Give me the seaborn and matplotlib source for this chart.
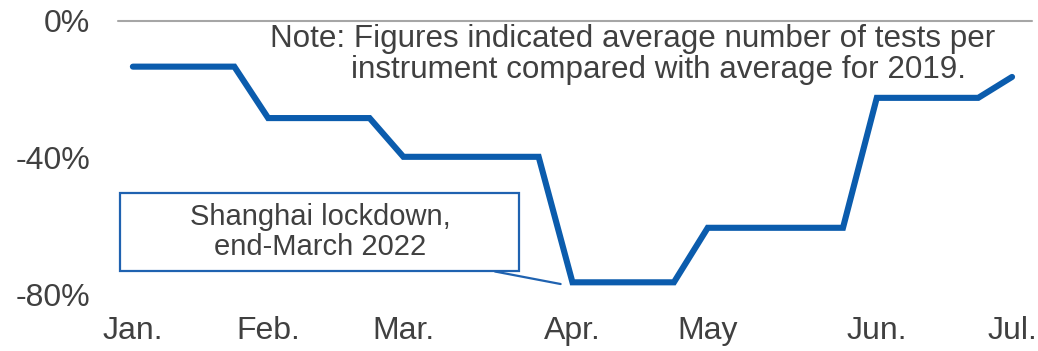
import matplotlib
matplotlib.use("Agg")
import matplotlib.pyplot as plt
import seaborn as sns
import pandas as pd
from matplotlib.patches import Rectangle

# Weekly change in average tests per instrument vs 2019 average (%)
week_start = "2022-01-04"
n_weeks = 27
change_pct = [
    -13.4, -13.4, -13.4, -13.4,          # Jan.
    -28.4, -28.4, -28.4, -28.4,          # Feb.
    -39.7, -39.7, -39.7, -39.7, -39.7,   # Mar.
    -76.3, -76.3, -76.3, -76.3,          # Apr.
    -60.4, -60.4, -60.4, -60.4, -60.4,   # May
    -22.5, -22.5, -22.5, -22.5,          # Jun.
    -16.4,                               # Jul.
]
month_labels = ["Jan.", "Feb.", "Mar.", "Apr.", "May", "Jun.", "Jul."]
y_ticks = [0, -40, -80]
y_tick_labels = ["0%", "-40%", "-80%"]

note_lines = [
    "Note: Figures indicated average number of tests per",
    "instrument compared with average for 2019.",
]
callout_text = "Shanghai lockdown,\nend-March 2022"

weeks = pd.date_range(week_start, periods=n_weeks, freq="7D")
df = pd.DataFrame({"week": weeks, "change": change_pct})

sns.set_theme(style="white")
plt.rcParams["font.family"] = ["Liberation Sans", "DejaVu Sans"]

text_color = "#404040"
line_color = "#0b5cad"

fig = plt.figure(figsize=(10.38, 3.51), dpi=100)
ax = fig.add_axes([118 / 1038, 1 - 295 / 351, 914 / 1038, (295 - 20.7) / 351])

sns.lineplot(data=df, x="week", y="change", ax=ax, color=line_color,
             linewidth=4.4, solid_capstyle="round", solid_joinstyle="miter")

# First week of each month carries the month label
first_weeks = df.groupby(df["week"].dt.to_period("M"))["week"].min().tolist()
ax.set_xticks(first_weeks)
ax.set_xticklabels(month_labels)

ax.set_yticks(y_ticks)
ax.set_yticklabels(y_tick_labels)
ax.set_ylim(-80, 0)
week = pd.Timedelta(days=7)
ax.set_xlim(weeks[0] - 0.44 * week, weeks[-1] + 0.59 * week)

ax.tick_params(axis="both", length=0, labelsize=23, colors=text_color)
ax.tick_params(axis="y", pad=20)
ax.tick_params(axis="x", pad=15)
ax.set_xlabel("")
ax.set_ylabel("")
for s in ax.spines.values():
    s.set_visible(False)
ax.axhline(0, color="#a6a6a6", linewidth=1.5, zorder=0, clip_on=False)

# Note in the upper right
ax.text(270 / 1038, 1 - 47.5 / 351, note_lines[0], transform=fig.transFigure,
        fontsize=22.6, color=text_color, ha="left", va="baseline")
ax.text(351 / 1038, 1 - 78 / 351, note_lines[1], transform=fig.transFigure,
        fontsize=22.6, color=text_color, ha="left", va="baseline")

# Callout box for the lockdown
box = Rectangle((120 / 1038, 1 - 271 / 351), 399 / 1038, 78 / 351,
                transform=fig.transFigure, facecolor="white",
                edgecolor="#1f62b0", linewidth=1.6, zorder=5)
fig.patches.append(box)
fig.text(320 / 1038, 1 - 232 / 351, callout_text, ha="center", va="center",
         fontsize=21, color=text_color, linespacing=1.05, zorder=6)
ax.annotate("", xy=(weeks[13] - 0.35 * week, -76.8),
            xytext=(495 / 1038, 1 - 271.5 / 351), textcoords="figure fraction",
            arrowprops=dict(arrowstyle="-", color="#1f62b0", lw=1.6,
                            shrinkA=0, shrinkB=0))

fig.savefig("out.png", dpi=100)
